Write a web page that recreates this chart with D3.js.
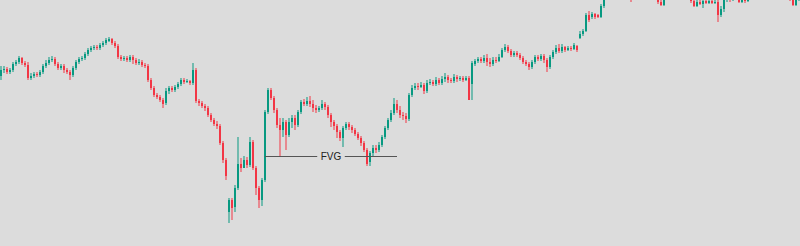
<!DOCTYPE html>
<html><head><meta charset="utf-8">
<script src="https://cdn.jsdelivr.net/npm/d3@7"></script>
<style>html,body{margin:0;padding:0;background:#dcdcdc;overflow:hidden}</style>
</head><body><svg id="c" width="800" height="246"></svg>
<script>
const opens = [
174,180,181,178,180,186,188,192,187,185,
172,174,176,175,178,184,187,190,191,186,
182,184,180,178,175,182,188,191,192,196,
200,202,203,202,205,207,209,211,207,204,
193,191,192,190,193,190,187,188,185,184,
170,162,155,153,150,147,159,162,160,163,
166,170,168,169,167,180,149,147,144,142,
135,130,126,124,107,90,38,50,43,62,
86,82,90,85,108,82,62,50,70,138,
160,152,140,125,120,128,115,128,132,125,
138,148,146,149,146,142,140,142,146,143,
135,128,124,118,112,122,126,123,120,116,
112,107,100,88,97,102,100,105,113,122,
130,137,146,140,135,134,131,155,162,164,
163,165,159,167,168,166,170,167,171,173,
170,169,173,171,172,170,172,166,186,189,
191,189,192,188,186,190,189,193,200,203,
199,195,197,195,192,188,186,183,188,193,
191,194,190,183,193,198,202,199,203,200,
202,201,204,212,216,219,235,233,236,235,
233,244,252,258,262,260,265,264,260,258,
256,253,258,262,265,263,266,262,258,254,
248,245,254,260,264,262,266,263,259,255,
252,249,244,248,246,249,247,249,247,248,
235,241,250,254,251,255,256,248,253,249,
256,260,264,262,267,265,268,264,261,263,
259,257,255,253,250,245,250];
const closes = [
180,181,178,180,186,188,192,187,185,172,
174,176,175,178,184,187,190,191,186,182,
184,180,178,175,182,188,191,192,196,200,
202,203,202,205,207,210,211,207,204,193,
191,192,190,193,190,187,188,185,184,170,
162,155,153,150,146,159,162,160,163,166,
170,168,169,167,180,149,147,144,142,135,
130,126,124,107,90,74,50,42,62,86,
82,90,85,108,82,62,50,70,138,160,
152,140,125,120,128,115,128,132,125,138,
148,146,149,146,142,140,142,146,143,135,
128,124,118,112,122,126,123,120,116,112,
107,100,86,97,102,100,105,113,122,130,
137,146,140,135,134,131,155,162,164,163,
165,159,167,168,166,170,167,171,173,170,
169,173,171,172,170,172,150,187,189,191,
189,192,188,186,190,189,193,200,203,199,
195,197,195,192,188,186,183,188,193,191,
194,190,183,193,198,202,199,203,200,202,
201,205,200,216,219,235,230,236,233,233,
244,252,258,262,260,265,264,260,258,256,
253,258,262,265,263,266,262,258,254,248,
245,254,260,264,262,266,263,259,255,252,
249,244,248,246,249,247,249,247,248,235,
241,250,254,251,255,258,248,253,249,256,
260,264,262,267,265,268,264,261,263,259,
257,255,253,250,245,250,253];
const highs = [
184,184,183,182,188,190,194,193,189,188,
177,178,178,180,186,190,193,194,193,188,
186,186,182,180,184,190,193,194,198,202,
204,205,205,207,209,212,213,212,209,206,
195,194,194,195,195,192,191,190,187,186,
172,164,157,155,152,162,164,164,165,168,
172,172,171,170,187,182,151,149,146,144,
137,132,129,126,109,92,52,52,65,113,
92,94,93,113,110,84,64,72,140,162,
162,154,142,132,132,130,132,135,135,140,
150,151,153,154,150,145,144,150,148,145,
137,130,126,120,124,128,128,125,122,118,
114,109,102,99,105,105,108,115,124,132,
140,152,150,144,138,137,157,165,167,167,
168,167,170,171,170,173,172,174,177,175,
172,176,175,174,174,174,174,189,191,193,
193,195,196,192,193,193,196,202,206,205,
201,199,199,197,194,190,188,190,195,195,
196,196,192,195,200,205,206,206,204,204,
204,207,205,219,221,237,239,238,237,236,
246,255,262,266,268,270,270,268,264,262,
260,262,266,270,269,271,269,265,261,256,
251,257,264,268,268,270,270,266,262,258,
255,252,250,250,252,251,252,251,251,250,
244,253,257,256,258,262,259,255,256,259,
264,268,268,272,271,273,271,267,267,265,
262,260,258,256,252,252,255];
const lows = [
170,177,176,176,178,184,186,185,183,170,
170,172,173,173,176,182,185,188,184,180,
180,177,176,170,173,180,186,189,190,194,
198,200,200,200,203,205,208,205,202,191,
189,189,188,188,186,185,185,183,182,168,
160,153,151,148,142,145,156,158,158,161,
164,166,167,165,165,147,144,142,139,133,
128,124,121,105,87,70,27,30,38,60,
78,84,82,83,80,55,42,44,68,136,
150,137,122,93,113,100,113,122,120,123,
136,144,144,143,138,137,138,140,140,132,
123,120,112,109,103,120,120,117,114,110,
104,98,84,84,94,97,98,103,111,120,
128,135,137,132,130,127,129,153,160,160,
162,156,157,165,164,164,165,165,168,167,
167,167,168,169,168,169,150,150,184,187,
187,187,184,183,184,187,188,192,198,197,
193,193,193,190,186,184,180,181,186,189,
189,187,178,181,191,196,197,197,198,199,
199,200,198,211,214,218,228,231,231,232,
232,242,250,256,258,258,260,257,254,252,
248,251,256,260,260,261,259,255,252,246,
244,244,252,258,259,260,260,256,253,250,
247,243,243,245,242,246,246,246,246,228,
233,238,248,248,249,253,247,247,247,248,
254,258,259,260,262,263,261,258,258,256,
254,252,251,249,244,244,249];

const fvgLabel = "FVG";
const fvgPrice = 93.5;
const fvgStart = 88;
const fvgEnd = 132;

const W = 800, H = 246;
const UP = "#089981", DOWN = "#f23645";
const n = opens.length;
const svg = d3.select("#c");
svg.append("rect").attr("width", W).attr("height", H).attr("fill", "#dcdcdc");

const x = d3.scaleBand().domain(d3.range(n)).range([0, 3 * n - 1]).paddingInner(1 / 3).paddingOuter(0);
const y = d3.scaleLinear().domain([4, 250]).range([H, 0]);
const bw = x.bandwidth();

const data = d3.range(n).map(i => ({i, o: opens[i], h: highs[i], l: lows[i], c: closes[i]}));
const g = svg.append("g");
const cs = g.selectAll("g.c").data(data).join("g").attr("class", "c");
cs.append("line")
  .attr("x1", d => x(d.i) + bw / 2).attr("x2", d => x(d.i) + bw / 2)
  .attr("y1", d => y(d.h)).attr("y2", d => y(d.l))
  .attr("stroke", d => d.c >= d.o ? UP : DOWN).attr("stroke-width", 1);
cs.append("rect")
  .attr("x", d => x(d.i)).attr("width", bw)
  .attr("y", d => y(Math.max(d.o, d.c)))
  .attr("height", d => Math.max(1, Math.abs(y(d.o) - y(d.c))))
  .attr("fill", d => d.c >= d.o ? UP : DOWN);

// FVG marker
const fy = y(fvgPrice);
const fx1 = x(fvgStart) + bw / 2, fx2 = x(fvgEnd) + bw / 2;
const mid = (fx1 + fx2) / 2;
const t = svg.append("text").attr("x", mid).attr("y", fy).attr("dy", "0.36em")
  .attr("text-anchor", "middle").attr("font-family", "Liberation Sans, Arial, sans-serif")
  .attr("font-size", 10).attr("fill", "#222").text(fvgLabel);
const tw = t.node().getComputedTextLength();
const gap = tw / 2 + 3.5;
svg.append("line").attr("x1", fx1).attr("x2", mid - gap).attr("y1", fy).attr("y2", fy)
  .attr("stroke", "#555").attr("stroke-width", 1.2);
svg.append("line").attr("x1", mid + gap).attr("x2", fx2).attr("y1", fy).attr("y2", fy)
  .attr("stroke", "#555").attr("stroke-width", 1.2);
</script></body></html>
